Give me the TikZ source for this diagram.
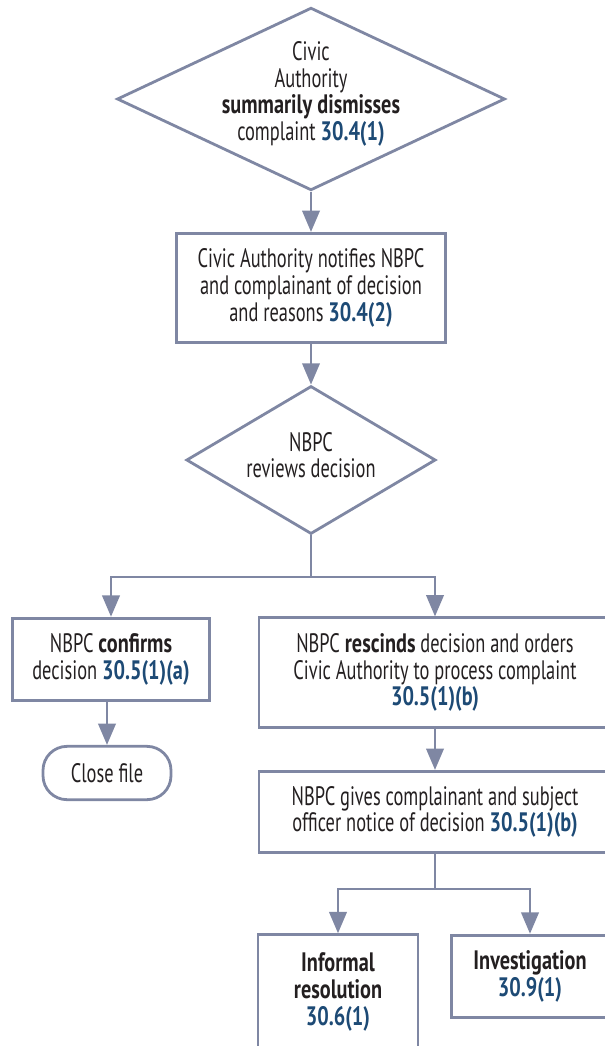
\documentclass[tikz,border=0pt]{standalone}
\usepackage{fontspec}
\setmainfont[FakeStretch=0.69, BoldFeatures={FakeStretch=0.76}]{PT Sans}
\usetikzlibrary{shapes.geometric,arrows.meta}

\definecolor{linegray}{HTML}{7F87A3}
\definecolor{refblue}{HTML}{1D4A75}
\definecolor{textdark}{HTML}{231F20}

\tikzset{
  box/.style={draw=linegray, line width=2.1pt, align=center, inner sep=0pt, text=textdark,
    font=\fontsize{20}{20}\selectfont},
  decision/.style={diamond, draw=linegray, line width=2.1pt, inner sep=0pt},
  dectext/.style={align=center, text=textdark, font=\fontsize{20}{20}\selectfont},
  endbox/.style={box, rounded corners=18pt},
  flow/.style={draw=linegray, line width=2.1pt, -{Triangle[length=16pt,width=13pt]}},
  branch/.style={draw=linegray, line width=2.1pt}
}
\newcommand{\sect}[1]{\textbf{\color{refblue}#1}}

\begin{document}
\begin{tikzpicture}[x=0.75pt,y=-0.75pt]
  \useasboundingbox (0,0) rectangle (605,1046);
  \clip (0,0) rectangle (605,1046);

  % Summary dismissal
  \node[decision, minimum width=291pt, minimum height=137pt] (dismiss) at (311,99) {};
  \node[dectext] (dismisstext) at (311,94) {Civic\\Authority\\\textbf{summarily dismisses}\\complaint \sect{30.4(1)}};

  % Notification
  \node[box, minimum width=202pt, minimum height=82pt] (notify) at (311,288)
    {Civic Authority notifies NBPC\\and complainant of decision\\and reasons \sect{30.4(2)}};

  % NBPC review
  \node[decision, minimum width=187pt, minimum height=111pt] (review) at (311,460) {};
  \node[dectext] (reviewtext) at (311,455) {NBPC\\reviews decision};

  % Outcomes of review
  \node[box, minimum width=148pt, minimum height=62pt] (confirm) at (111,659.5)
    {NBPC \textbf{confirms}\\decision \sect{30.5(1)(a)}};
  \node[endbox, minimum width=96pt, minimum height=40pt] (close) at (107,773) {Close file};
  \node[box, minimum width=264pt, minimum height=82pt] (rescind) at (435,672.5)
    {NBPC \textbf{rescinds} decision and orders\\Civic Authority to process complaint\\\sect{30.5(1)(b)}};
  \node[box, minimum width=264pt, minimum height=61pt] (notice) at (435,812)
    {NBPC gives complainant and subject\\officer notice of decision \sect{30.5(1)(b)}};

  % Processing
  \node[box, minimum width=120pt, minimum height=86pt] (informal) at (338,992)
    {\textbf{Informal}\\\textbf{resolution}\\\sect{30.6(1)}};
  \node[box, minimum width=118pt, minimum height=62pt] (investigate) at (530,976.5)
    {\textbf{Investigation}\\\sect{30.9(1)}};

  % Split points
  \coordinate (split1) at (311,577);
  \coordinate (split2) at (435,889);

  % Connectors
  \draw[flow] (dismiss.south) -- (notify.north);
  \draw[flow] (notify.south) -- (review.north);
  \draw[branch] (review.south) -- (split1);
  \draw[flow] (split1) -| (confirm.north);
  \draw[flow] (split1) -| (rescind.north);
  \draw[flow] (confirm.south -| close.north) -- (close.north);
  \draw[flow] (rescind.south) -- (notice.north);
  \draw[branch] (notice.south) -- (split2);
  \draw[flow] (split2) -| (informal.north);
  \draw[flow] (split2) -| (investigate.north);
\end{tikzpicture}
\end{document}
